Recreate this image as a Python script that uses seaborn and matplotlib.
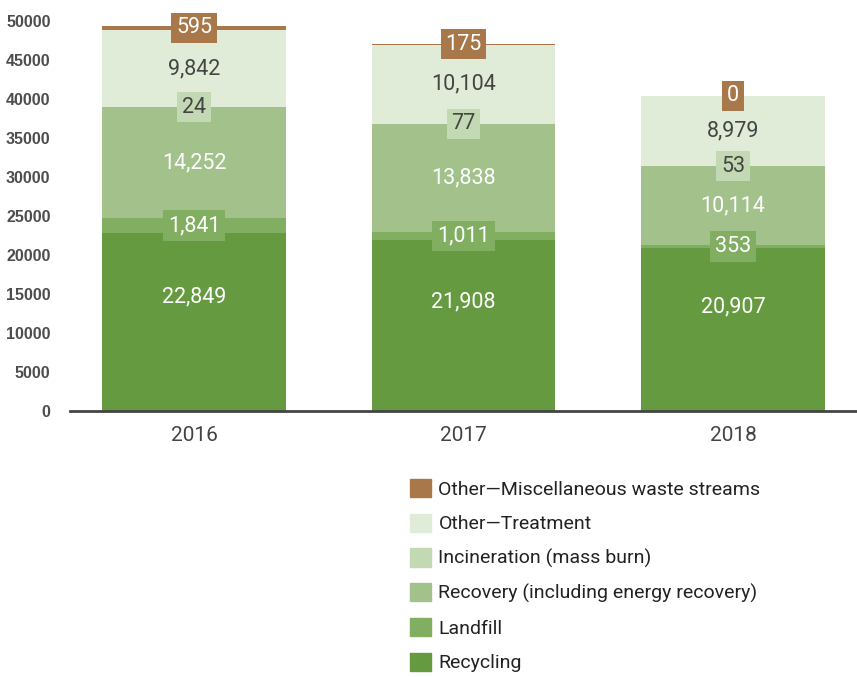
import numpy as np
import pandas as pd
import matplotlib.pyplot as plt
import matplotlib.patches as mpatches
import seaborn as sns

years = ['2016', '2017', '2018']
series_names = ['Recycling', 'Landfill', 'Recovery (including energy recovery)',
                'Incineration (mass burn)', 'Other\u2014Treatment',
                'Other\u2014Miscellaneous waste streams']
recycling = [22849, 21908, 20907]
landfill = [1841, 1011, 353]
recovery = [14252, 13838, 10114]
incineration = [24, 77, 53]
treatment = [9842, 10104, 8979]
misc = [595, 175, 0]

colors = ['#669a40', '#82ae62', '#a3c28b', '#c3d9b3', '#e0ebd8', '#a8784a']
text_colors = ['white', 'white', 'white', '#444444', '#444444', 'white']
boxed = [False, True, False, True, False, True]
# where the label sits within its segment (0 = bottom, 1 = top)
label_pos = [0.64, 0.5, 0.5, 0.5, 0.5, 0.5]

sns.set_style('white')
plt.rcParams['font.family'] = ['Roboto', 'DejaVu Sans']

fig = plt.figure(figsize=(8.57, 6.77), dpi=100)
ax = fig.add_axes([70 / 857, 266 / 677, 787 / 857, 390 / 677])

all_series = [recycling, landfill, recovery, incineration, treatment, misc]
bottoms = np.zeros(len(years))
for name, vals, col, tcol, bx, lp in zip(series_names, all_series, colors,
                                         text_colors, boxed, label_pos):
    df = pd.DataFrame({'year': years, 'value': vals})
    sns.barplot(data=df, x='year', y='value', bottom=bottoms, color=col,
                width=0.68, saturation=1, ax=ax, linewidth=0)
    for i, v in enumerate(vals):
        y = bottoms[i] + v * lp
        ax.text(i, y, f'{v:,}', ha='center', va='center', color=tcol, fontsize=15.5,
                clip_on=False, zorder=5,
                bbox=dict(boxstyle='square,pad=0.22', fc=col, ec='none') if bx else None)
    bottoms = bottoms + np.array(vals)

ax.set_xlim(-0.46, 2.46)
ax.set_ylim(0, 50000)
ax.set_yticks(np.arange(0, 50001, 5000))
ax.set_yticklabels([str(t) for t in range(0, 50001, 5000)], fontweight='bold',
                   color='#4d4d4d', fontsize=11.5, family='Liberation Sans')
ax.tick_params(axis='x', labelsize=15, labelcolor='#444444', length=0, pad=11)
ax.tick_params(axis='y', length=0, pad=14)
ax.set_xlabel('')
ax.set_ylabel('')
for s in ['top', 'right', 'left']:
    ax.spines[s].set_visible(False)
ax.spines['bottom'].set_color('#444444')
ax.spines['bottom'].set_linewidth(2)
ax.grid(False)

handles = [mpatches.Patch(color=c, label=n) for c, n in zip(colors, series_names)][::-1]
fig.legend(handles=handles, loc='upper left', bbox_to_anchor=(410 / 857, 1 - 479 / 677),
           frameon=False, fontsize=14, handlelength=1.08, handleheight=1.08,
           labelspacing=0.76, handletextpad=0.38, borderpad=0, borderaxespad=0,
           labelcolor='#222222')

fig.savefig('out.png', dpi=100)
